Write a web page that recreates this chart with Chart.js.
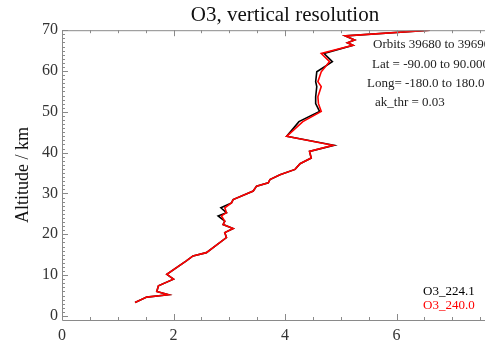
<!DOCTYPE html>
<html>
<head>
<meta charset="utf-8">
<script src="https://cdn.jsdelivr.net/npm/chart.js@4.4.1/dist/chart.umd.min.js"></script>
<style>
  html, body { margin: 0; padding: 0; background: #fff; overflow: hidden; }
  #wrap { width: 485px; height: 346px; overflow: hidden; }
</style>
</head>
<body>
<div id="wrap"><canvas id="o3Chart" width="520" height="346"></canvas></div>
<script>
// Altitude (km) of each profile point
const altitude = [3.3, 4.6, 5.2, 6.0, 7.4, 9.0, 10.2, 13.5, 14.7, 15.5, 19.2, 20.4, 21.4, 22.4, 23.2, 24.5, 25.3, 26.5, 27.7, 28.5,
	30.6, 31.8, 32.6, 33.4, 34.6, 35.9, 37.3, 38.7, 40.3, 41.8, 44.0, 47.6, 50.1, 52.0, 53.7, 56.2, 57.4, 59.8, 62.3, 64.3,
	66.3, 66.9, 67.6, 68.6, 70.0];

// O3_224.1 (preta)
const o3_224 = [1.31, 1.52, 1.91, 1.70, 1.73, 2.00, 1.88, 2.23, 2.35, 2.59, 2.95, 2.92, 3.07, 2.89, 2.92, 2.80, 2.95, 2.85, 3.04, 3.07,
	3.43, 3.49, 3.70, 3.73, 3.91, 4.18, 4.27, 4.47, 4.44, 4.88, 4.03, 4.25, 4.62, 4.55, 4.55, 4.57, 4.55, 4.57, 4.85, 4.70,
	5.22, 5.12, 5.25, 5.08, 6.60];

// O3_240.0 (vermelha)
const o3_240 = [1.31, 1.52, 1.91, 1.70, 1.73, 2.00, 1.88, 2.23, 2.35, 2.59, 2.95, 2.92, 3.07, 2.89, 2.92, 2.86, 2.95, 2.92, 3.04, 3.07,
	3.43, 3.49, 3.70, 3.73, 3.91, 4.18, 4.27, 4.47, 4.44, 4.86, 4.03, 4.32, 4.65, 4.60, 4.59, 4.65, 4.59, 4.65, 4.80, 4.65,
	5.22, 5.12, 5.25, 5.08, 6.60];

const xTicks = [0, 2, 4, 6, 8];
const yTicks = [0, 10, 20, 30, 40, 50, 60, 70];
const xMinor = [0.5, 1, 1.5, 2.5, 3, 3.5, 4.5, 5, 5.5, 6.5, 7, 7.5];

const infoLines = ['Orbits 39680 to 39690', 'Lat = -90.00 to 90.000', 'Long= -180.0 to 180.0', 'ak_thr = 0.03'];

const serif = "'Liberation Serif', 'Times New Roman', serif";

const toPoints = (xs, ys) => xs.map((v, i) => ({ x: v, y: ys[i] }));

// Marcas para dentro, estilo IDL
const idlAxes = {
	id: 'idlAxes',
	afterDraw(chart) {
		const { ctx, chartArea: a, scales } = chart;
		const xs = scales.x, ys = scales.y;
		ctx.save();
		ctx.strokeStyle = '#8a8a8a';
		ctx.lineWidth = 1;
		ctx.beginPath();
		ctx.rect(a.left + 0.5, a.top + 0.5, a.right - a.left, a.bottom - a.top);
		const tickX = (v, len) => {
			const px = Math.round(xs.getPixelForValue(v)) + 0.5;
			ctx.moveTo(px, a.bottom); ctx.lineTo(px, a.bottom - len);
			ctx.moveTo(px, a.top); ctx.lineTo(px, a.top + len);
		};
		xTicks.forEach(v => tickX(v, 6));
		xMinor.forEach(v => tickX(v, 3));
		for (let v = 0; v <= 70; v++) {
			const py = Math.round(ys.getPixelForValue(v)) + 0.5;
			const len = v % 10 === 0 ? 6 : 3;
			ctx.moveTo(a.left, py); ctx.lineTo(a.left + len, py);
		}
		ctx.stroke();

		ctx.font = '13px ' + serif;
		ctx.textBaseline = 'middle';
		ctx.fillStyle = '#222';
		const infoX = [373, 372, 367, 375];
		infoLines.forEach((t, i) => ctx.fillText(t, infoX[i], 45 + i * 19.2));

		chart.data.datasets.slice().sort((p, q) => p.legendIndex - q.legendIndex).forEach((ds, i) => {
			ctx.fillStyle = ds.borderColor;
			ctx.fillText(ds.label, 423, 292 + i * 14);
		});
		ctx.restore();
	}
};

const chartData = {
	datasets: [{
		label: 'O3_240.0',
		data: toPoints(o3_240, altitude),
		borderColor: '#ff0000',
		borderWidth: 1.6,
		legendIndex: 1,
		order: 0
	}, {
		label: 'O3_224.1',
		data: toPoints(o3_224, altitude),
		borderColor: '#000000',
		borderWidth: 1.6,
		legendIndex: 0,
		order: 1
	}]
};

const chartOptions = {
	responsive: false,
	animation: false,
	showLine: true,
	elements: { point: { radius: 0 }, line: { tension: 0 } },
	layout: { padding: { left: 0, right: 12, top: 0, bottom: 0 } },
	plugins: {
		legend: { display: false },
		tooltip: { enabled: false },
		title: {
			display: true,
			text: 'O3, vertical resolution',
			fullSize: false,
			color: '#111',
			font: { family: serif, size: 21, weight: 'normal' },
			padding: { top: 3, bottom: 2 }
		}
	},
	scales: {
		x: {
			type: 'linear',
			min: 0,
			max: 8,
			afterBuildTicks: s => { s.ticks = xTicks.map(v => ({ value: v })); },
			afterFit: s => { s.height = 26; },
			grid: { display: false, drawTicks: false },
			border: { display: false },
			ticks: { color: '#333', padding: 6, maxRotation: 0, font: { family: serif, size: 16 } }
		},
		y: {
			type: 'linear',
			min: -1,
			max: 70,
			afterBuildTicks: s => { s.ticks = yTicks.map(v => ({ value: v })); },
			afterFit: s => { s.width = 62; },
			grid: { display: false, drawTicks: false },
			border: { display: false },
			ticks: { color: '#333', padding: 4, font: { family: serif, size: 16 } },
			title: {
				display: true,
				text: 'Altitude / km',
				color: '#111',
				padding: { top: 12, bottom: 0 },
				font: { family: serif, size: 18 }
			}
		}
	}
};

let ctx = document.getElementById('o3Chart').getContext('2d');
new Chart(ctx, { type: 'scatter', data: chartData, options: chartOptions, plugins: [idlAxes] });
</script>
</body>
</html>
